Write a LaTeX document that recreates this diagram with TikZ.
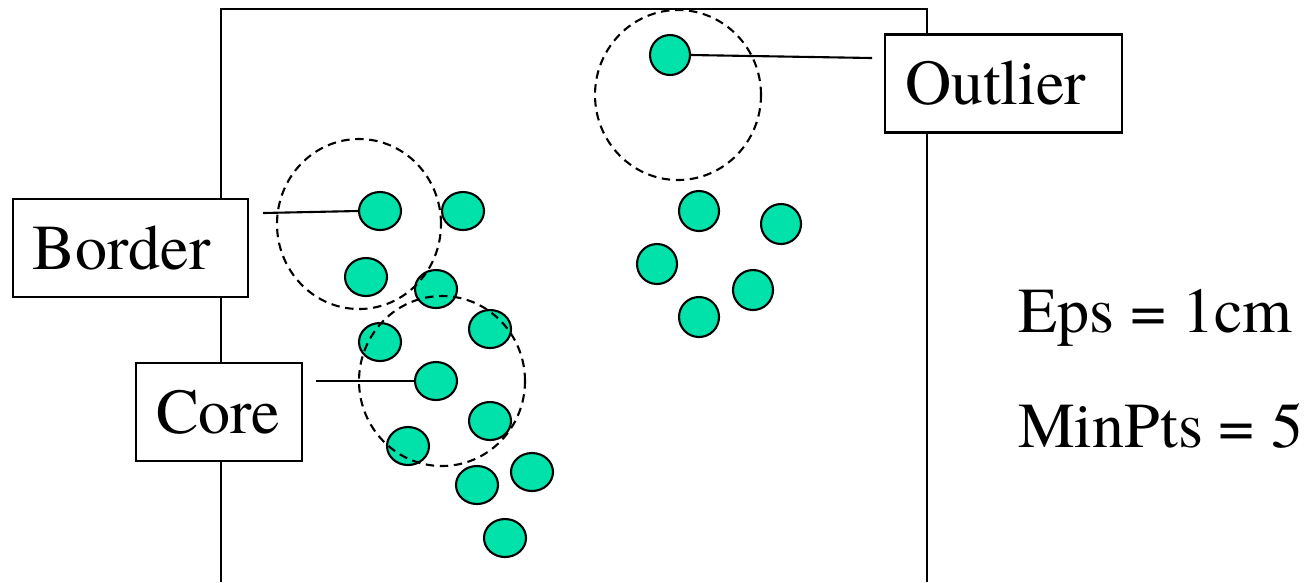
\documentclass[tikz,border=0pt]{standalone}
\usepackage{fontspec}
\setmainfont{texgyretermes-regular.otf}
\usetikzlibrary{shapes.geometric}
\definecolor{ptgreen}{RGB}{0,226,170}

\begin{document}
\begin{tikzpicture}[line width=0.6pt,
		pt/.style={draw,fill=ptgreen,ellipse,inner sep=0pt,minimum width=0.42cm,minimum height=0.38cm},
		lbl/.style={draw,fill=white,inner ysep=0pt,inner xsep=0.2cm,align=left,minimum height=0.98cm,font=\fontsize{18.2}{22}\selectfont},
		epsring/.style={dash pattern=on 2.4pt off 1.6pt}]
		\useasboundingbox (0,0) rectangle (13.06,-5.82);
		% frame
		\draw (2.21,-5.82) -- (2.21,-0.09) -- (9.27,-0.09) -- (9.27,-5.82);

		% left cluster
		\foreach \n/\x/\y in {1/3.80/2.11, 2/4.63/2.11, 3/3.66/2.77, 4/4.36/2.89, 5/4.90/3.29, 6/3.80/3.42,
			7/4.36/3.81, 8/4.90/4.21, 9/4.08/4.46, 10/5.32/4.72, 11/4.77/4.85, 12/5.05/5.38}
			\node[pt] (p\n) at (\x,-\y) {};
		%% right cluster
		\foreach \n/\x/\y in {13/6.70/0.55, 14/6.99/2.11, 15/7.81/2.24, 16/6.57/2.64, 17/7.53/2.90, 18/6.99/3.17}
			\node[pt,minimum height=0.40cm,minimum width=0.40cm] (p\n) at (\x,-\y) {};

		% eps rings
		\draw[epsring] (3.59,-2.24) ellipse (0.82 and 0.85);
		\draw[epsring] (4.42,-3.81) ellipse (0.83 and 0.85);
		\draw[epsring] (6.78,-0.95) ellipse (0.83 and 0.85);

		% labels
		\node[lbl,text width=1.95cm] (border) at (1.305,-2.48) {Border};
		\node[lbl,text width=1.26cm] (core) at (2.19,-4.12) {Core};
		\node[lbl,text width=1.97cm] (outlier) at (10.035,-0.835) {Outlier};
		\coordinate (bordertail) at (2.63,-2.13);
		\coordinate (coretail) at (3.16,-3.81);
		\coordinate (outliertail) at (8.72,-0.58);
		\draw (bordertail) -- (p1.west);
		\draw (coretail) -- (p7.west);
		\draw (p13.east) -- (outliertail);

		% parameters
		\node[anchor=base west,inner sep=0pt,font=\fontsize{18.2}{22}\selectfont] (eps) at (10.17,-3.32) {Eps = 1cm};
		\node[anchor=base west,inner sep=0pt,font=\fontsize{18.2}{22}\selectfont] (minpts) at (10.17,-4.47) {MinPts = 5};
\end{tikzpicture}
\end{document}
